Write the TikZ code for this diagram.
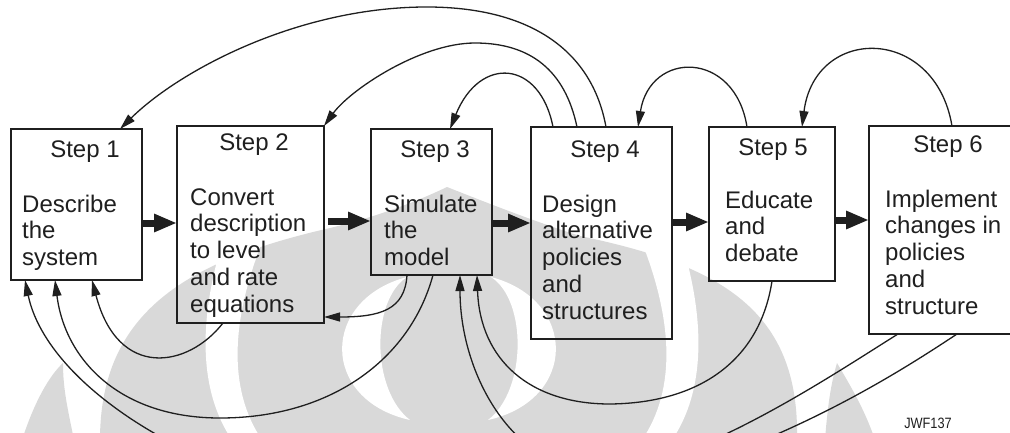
\documentclass[tikz,border=0pt]{standalone}
\usepackage{fontspec}
\usepackage{graphicx}
\setmainfont{Liberation Sans}
\usetikzlibrary{arrows.meta,calc}
\definecolor{ink}{gray}{0.12}
\definecolor{emblemgray}{gray}{0.85}
\newcommand\steplines[1]{\begin{tabular}[t]{@{}l@{}}#1\end{tabular}}
\begin{document}
\begin{tikzpicture}[x=1pt,y=-1pt,
  stepbox/.style={draw=ink, line width=1.6pt, rectangle, inner sep=0pt, outer sep=0pt, anchor=north west},
  steptitle/.style={anchor=base, inner sep=0pt, text=ink, font=\fontsize{24}{26.8}\selectfont},
  steptext/.style={anchor=base west, inner sep=0pt, text=ink, font=\fontsize{24}{26.8}\selectfont},
  fwdarrow/.style={draw=ink, line width=7pt, -{Triangle[length=23pt,width=17pt]}},
  fbarrow/.style={draw=ink, line width=1.3pt, -{Triangle[length=16pt,width=9pt]}},
]
\useasboundingbox (0,0) rectangle (1010,432);
\clip (0,0) rectangle (1010,432);

% background emblem
\fill[emblemgray] (100,440) .. controls (100,310) and (190,260) .. (330,228)
  .. controls (380,216) and (420,200) .. (447,187)
  .. controls (480,200) and (530,220) .. (580,236)
  .. controls (720,265) and (800,310) .. (797,440) -- cycle;
\fill[white] (220,250) .. controls (200,320) and (198,390) .. (232,440) -- (262,440)
  .. controls (228,390) and (230,320) .. (265,235) -- cycle;
\fill[white] (684,250) .. controls (704,320) and (706,390) .. (672,440) -- (642,440)
  .. controls (676,390) and (674,320) .. (639,235) -- cycle;
\fill[white] (407,277) .. controls (320,300) and (320,400) .. (410,420)
  .. controls (371,390) and (371,300) .. (407,277) -- cycle;
\fill[white] (491,277) .. controls (578,300) and (578,400) .. (488,420)
  .. controls (527,390) and (527,300) .. (491,277) -- cycle;
\fill[emblemgray] (22,440) .. controls (35,400) and (50,375) .. (63,363)
  .. controls (63,390) and (68,410) .. (74,440) -- cycle;
\fill[emblemgray] (825,440) .. controls (828,400) and (832,380) .. (837,363)
  .. controls (850,385) and (865,410) .. (875,440) -- cycle;

% step boxes
\node[stepbox, minimum width=131pt, minimum height=151pt] (s1) at (11,129) {};
\node[stepbox, minimum width=147pt, minimum height=197pt] (s2) at (177,126) {};
\node[stepbox, minimum width=121pt, minimum height=146pt] (s3) at (371,129) {};
\node[stepbox, minimum width=141pt, minimum height=212pt] (s4) at (531,127) {};
\node[stepbox, minimum width=126pt, minimum height=154pt] (s5) at (709,127) {};
\node[stepbox, minimum width=146pt, minimum height=208pt] (s6) at (869,126) {};

% titles
\node[steptitle] (t1) at (85,157) {Step 1};
\node[steptitle] (t2) at (254,150) {Step 2};
\node[steptitle] (t3) at (435,157) {Step 3};
\node[steptitle] (t4) at (605,157) {Step 4};
\node[steptitle] (t5) at (773,155) {Step 5};
\node[steptitle] (t6) at (948,152) {Step 6};

% descriptions
\node[steptext] (b1) at (22,212) {\steplines{Describe\\the\\system}};
\node[steptext] (b2) at (190,205) {\steplines{Convert\\description\\to level\\and rate\\equations}};
\node[steptext] (b3) at (384,212) {\steplines{Simulate\\the\\model}};
\node[steptext] (b4) at (542,212) {\steplines{Design\\alternative\\policies\\and\\structures}};
\node[steptext] (b5) at (725,208) {\steplines{Educate\\and\\debate}};
\node[steptext] (b6) at (885,207) {\steplines{Implement\\changes in\\policies\\and\\structure}};

\node[anchor=base, inner sep=0pt, text=ink, font=\fontsize{15}{17}\selectfont] (code) at (928,428) {\scalebox{0.85}[1]{JWF137}};

% forward flow
\draw[fwdarrow] ($(s1.north east)+(0,94)$) -- ($(s2.north west)+(0,97)$);
\draw[fwdarrow] ($(s2.north east)+(4,95)$) -- ($(s3.north west)+(0,92)$);
\draw[fwdarrow] ($(s3.north east)+(0,94)$) -- ($(s4.north west)+(0,96)$);
\draw[fwdarrow] ($(s4.north east)+(0,95)$) -- ($(s5.north west)+(0,95)$);
\draw[fwdarrow] ($(s5.north east)+(0,93)$) -- ($(s6.north west)+(0,94)$);

% feedback over the top
\draw[fbarrow] ($(s4.north west)+(75,0)$) .. controls (592,50) and (530,8) .. (430,7)
  .. controls (300,6) and (180,70) .. ($(s1.north west)+(109,0)$);
\draw[fbarrow] ($(s4.north west)+(46,0)$) .. controls (565,70) and (530,43) .. (475,43)
  .. controls (420,43) and (350,90) .. (s2.north east);
\draw[fbarrow] ($(s4.north west)+(22,0)$) .. controls (540,60) and (480,55) .. ($(s3.north west)+(79,0)$);
\draw[fbarrow] ($(s5.north west)+(38,0)$) .. controls (735,50) and (650,50) .. ($(s4.north west)+(107,0)$);
\draw[fbarrow] ($(s6.north west)+(83,0)$) .. controls (935,25) and (815,25) .. ($(s5.north west)+(93,0)$);

% feedback underneath
\draw[fbarrow] ($(s2.south west)+(46,0)$) .. controls (188,368) and (118,380) .. ($(s1.south west)+(81,0)$);
\draw[fbarrow] ($(s3.south west)+(62,0)$) .. controls (410,360) and (330,418) .. (220,418)
  .. controls (120,418) and (65,360) .. ($(s1.south west)+(44,0)$);
\draw[fbarrow] ($(s3.south west)+(36,0)$) .. controls (405,310) and (380,317) .. ($(s2.south east)+(0,-6)$);
\draw[fbarrow] ($(s5.south west)+(63,0)$) .. controls (760,360) and (700,403) .. (610,404)
  .. controls (530,404) and (480,360) .. ($(s3.south west)+(106,0)$);
\draw[fbarrow] ($(s6.south west)+(29,0)$) .. controls (840,370) and (700,465) .. (610,470)
  .. controls (520,480) and (460,380) .. ($(s3.south west)+(89,0)$);
\draw[fbarrow] ($(s6.south west)+(88,0)$) .. controls (880,385) and (700,500) .. (460,510)
  .. controls (250,515) and (50,400) .. ($(s1.south west)+(14,0)$);
\end{tikzpicture}
\end{document}
